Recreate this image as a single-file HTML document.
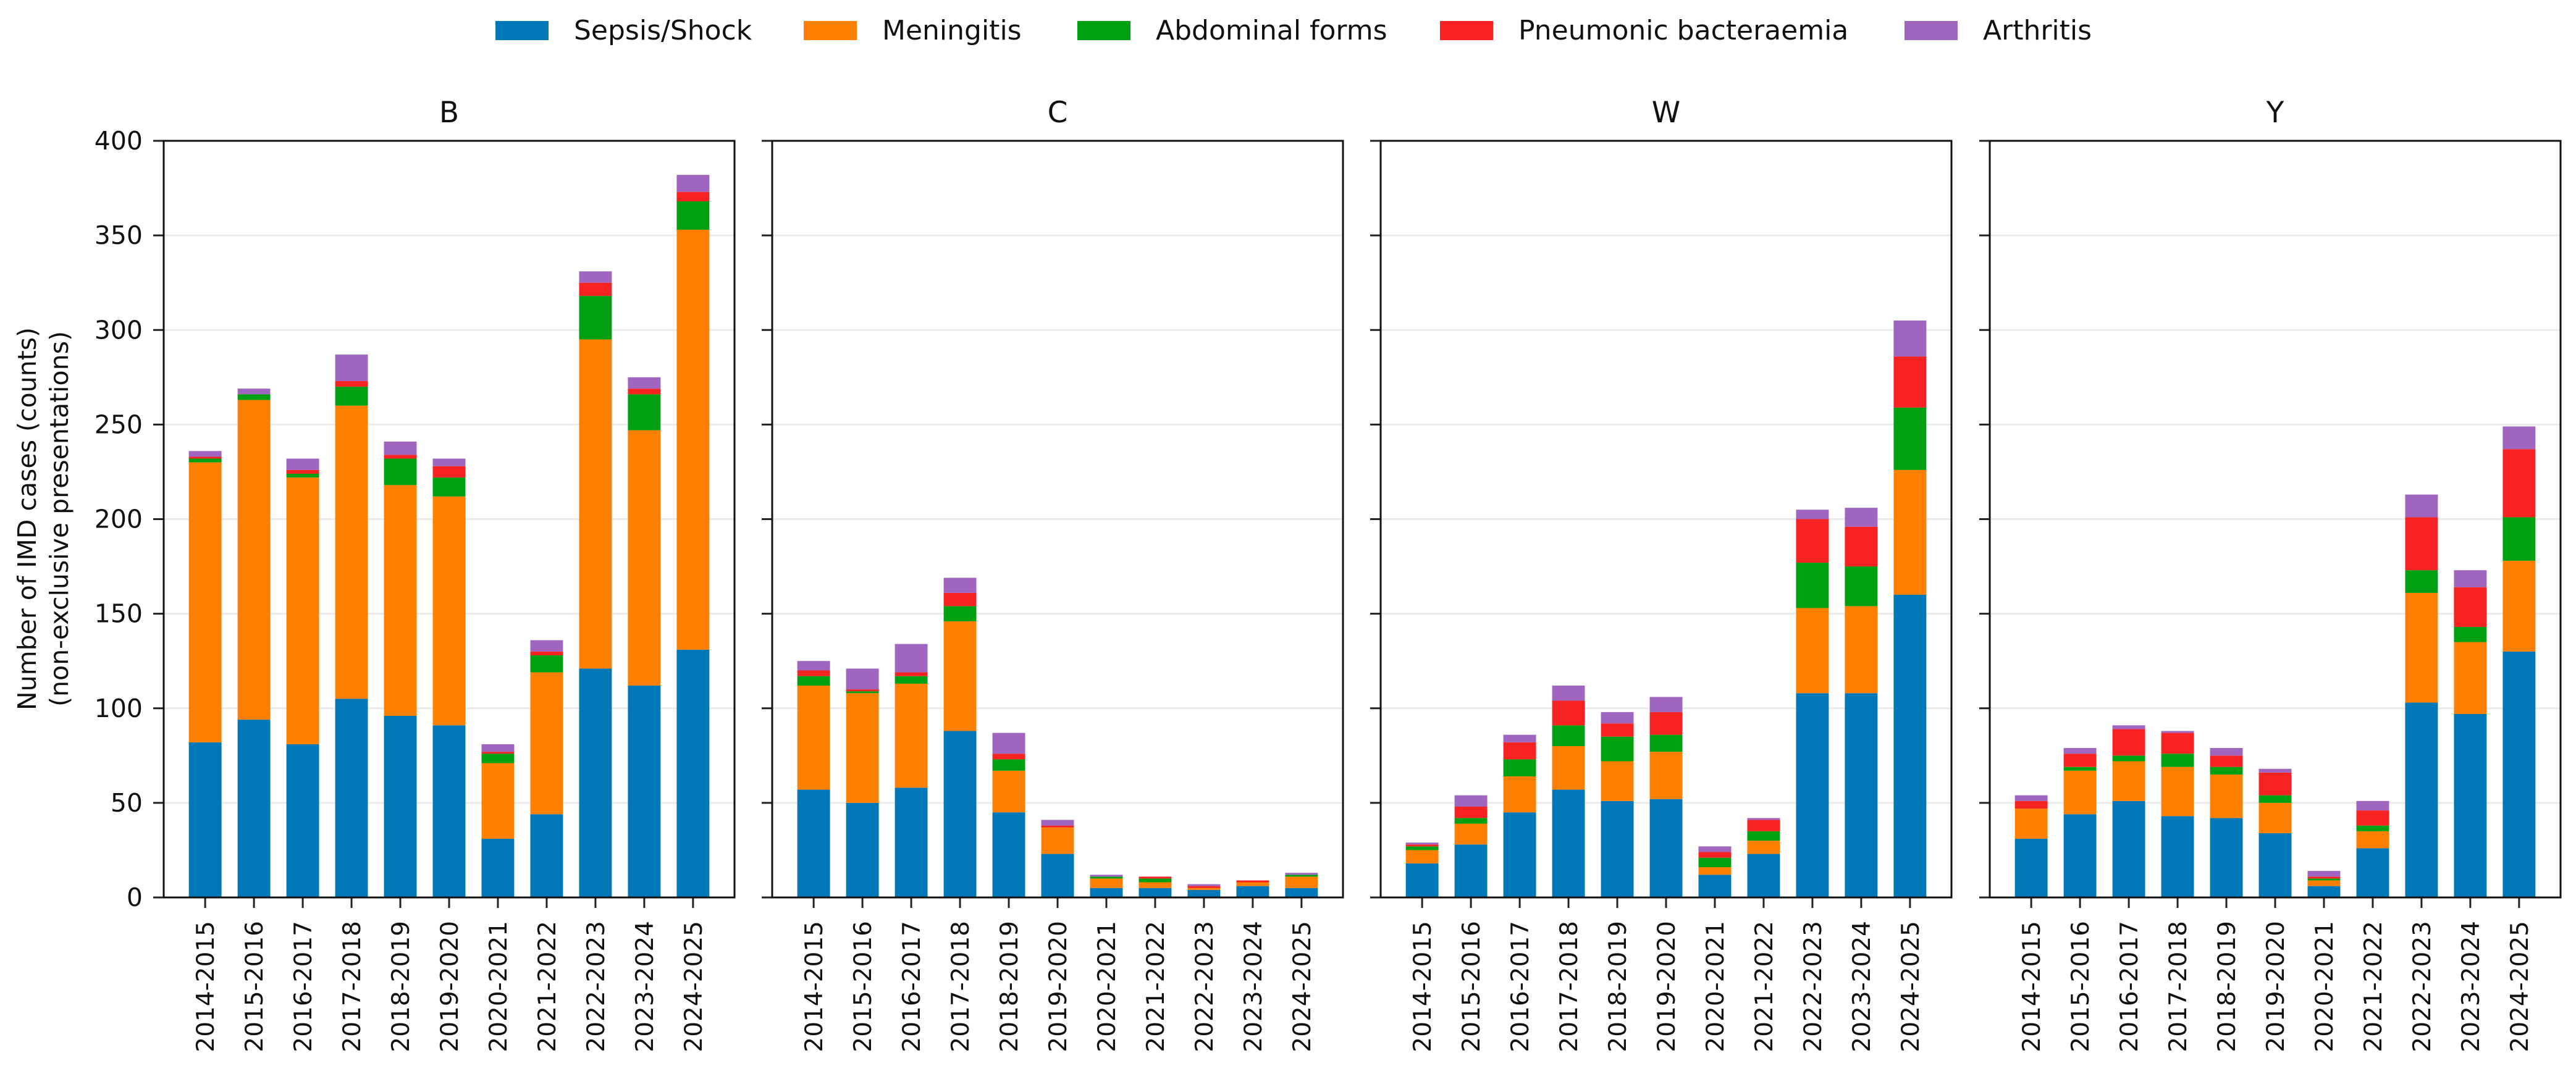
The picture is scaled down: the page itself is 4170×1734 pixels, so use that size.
<!DOCTYPE html>
<html><head><meta charset="utf-8">
<style>
html,body{margin:0;padding:0;background:#fff;}
svg{display:block;font-family:"DejaVu Sans","Liberation Sans",sans-serif;}
</style></head>
<body>
<svg id="chart" width="4170" height="1734" viewBox="0 0 4170 1734" xmlns="http://www.w3.org/2000/svg">
<rect x="0" y="0" width="4170" height="1734" fill="#fff"/>
<g id="legend"></g>
<g id="panels"></g>
<text transform="translate(58,840) rotate(-90)" text-anchor="middle" font-size="41" fill="#111">Number of IMD cases (counts)</text>
<text transform="translate(110,840) rotate(-90)" text-anchor="middle" font-size="41" fill="#111">(non-exclusive presentations)</text>
</svg>
<script>
const categories = ["2014-2015","2015-2016","2016-2017","2017-2018","2018-2019","2019-2020","2020-2021","2021-2022","2022-2023","2023-2024","2024-2025"];
const seriesNames = ["Sepsis/Shock","Meningitis","Abdominal forms","Pneumonic bacteraemia","Arthritis"];
const panelNames = ["B","C","W","Y"];
const yTicks = [0,50,100,150,200,250,300,350,400];

const B_sepsis = [82,94,81,105,96,91,31,44,121,112,131];
const B_mening = [148,169,141,155,122,121,40,75,174,135,222];
const B_abdom  = [2,3,2,10,14,10,5,9,23,19,15];
const B_pneum  = [1,0,2,3,2,6,1,2,7,3,5];
const B_arthr  = [3,3,6,14,7,4,4,6,6,6,9];

const C_sepsis = [57,50,58,88,45,23,5,5,4,6,5];
const C_mening = [55,58,55,58,22,14,5,3,1,2,6];
const C_abdom  = [5,1,4,8,6,0,1,2,0,0,1];
const C_pneum  = [3,1,2,7,3,1,0,1,1,1,0];
const C_arthr  = [5,11,15,8,11,3,1,0,1,0,1];

const W_sepsis = [18,28,45,57,51,52,12,23,108,108,160];
const W_mening = [7,11,19,23,21,25,4,7,45,46,66];
const W_abdom  = [2,3,9,11,13,9,5,5,24,21,33];
const W_pneum  = [1,6,9,13,7,12,3,6,23,21,27];
const W_arthr  = [1,6,4,8,6,8,3,1,5,10,19];

const Y_sepsis = [31,44,51,43,42,34,6,26,103,97,130];
const Y_mening = [16,23,21,26,23,16,3,9,58,38,48];
const Y_abdom  = [0,2,3,7,4,4,1,3,12,8,23];
const Y_pneum  = [4,7,14,11,6,12,1,8,28,21,36];
const Y_arthr  = [3,3,2,1,4,2,3,5,12,9,12];

const panelData = [
  [B_sepsis,B_mening,B_abdom,B_pneum,B_arthr],
  [C_sepsis,C_mening,C_abdom,C_pneum,C_arthr],
  [W_sepsis,W_mening,W_abdom,W_pneum,W_arthr],
  [Y_sepsis,Y_mening,Y_abdom,Y_pneum,Y_arthr]
];
</script>
<script>
(function(){
const NS = "http://www.w3.org/2000/svg";
const colors = ["#0077b6","#ff8000","#00a012","#f72222","#a066bf"];
const panelLefts = [265,1250,2235,3221];
const panelW = 924, top = 228, bottom = 1453, yMax = 400;
const slot = 'sepsis,meningitis,abdominal,pneumonic,arthritis'.split(',');
function el(tag, attrs, parent){
  const e = document.createElementNS(NS, tag);
  for (const k in attrs) e.setAttribute(k, attrs[k]);
  parent.appendChild(e);
  return e;
}
function yScale(v){ return bottom - (v / yMax) * (bottom - top); }

// legend
const legend = document.getElementById('legend');
const swX = [802,1301,1744,2331,3083];
seriesNames.forEach((n,i)=>{
  const g = el('g',{},legend);
  
  
  const r = el('rect',{x:swX[i], y:34, width:86, height:31, fill:colors[i]}, g);
  
  
  const t = el('text',{x:swX[i]+127, y:64, 'font-size':44, fill:'#111'}, g);
  t.textContent = n;
  
  
});

const panels = document.getElementById('panels');
panelNames.forEach((pn, p)=>{
  const L = panelLefts[p];
  const step = panelW / (categories.length + 0.7);
  const xCenter = i => L + step*0.85 + i*step;
  const g = el('g',{},panels);
  
  
  // gridlines
  yTicks.forEach(v=>{
    if (v===0 || v===yMax) return;
    const gl = el('line',{x1:L, x2:L+panelW, y1:yScale(v), y2:yScale(v), stroke:'#ebebeb', 'stroke-width':3}, g);
    
    
  });
  // bars
  const data = panelData[p];
  categories.forEach((c,i)=>{
    let base = 0;
    const bw = step*0.67;
    data.forEach((series, s)=>{
      const v = series[i];
      if (v > 0){
        const y0 = yScale(base), y1 = yScale(base+v);
        const r = el('rect',{x:xCenter(i)-bw/2, y:y1, width:bw, height:y0-y1, fill:colors[s]}, g);
        
        
      }
      base += v;
    });
    // x tick
    const tk = el('line',{x1:xCenter(i), x2:xCenter(i), y1:bottom, y2:bottom+17, stroke:'#222', 'stroke-width':3}, g);
    
    
    const tl = el('text',{transform:'translate('+(xCenter(i)+14)+','+(bottom+38)+') rotate(-90)', 'text-anchor':'end', 'font-size':39, fill:'#111'}, g);
    tl.textContent = c;
    
    
  });
  // y ticks
  yTicks.forEach(v=>{
    const t = el('line',{x1:L-17, x2:L, y1:yScale(v), y2:yScale(v), stroke:'#222', 'stroke-width':3}, g);
    
    
    if (p===0){
      const tl = el('text',{x:L-34, y:yScale(v)+14, 'text-anchor':'end', 'font-size':41, fill:'#111'}, g);
      tl.textContent = v;
      
      
    }
  });
  // frame
  const fr = el('rect',{x:L, y:top, width:panelW, height:bottom-top, fill:'none', stroke:'#111', 'stroke-width':3}, g);
  
  
  const tt = el('text',{x:L+panelW/2, y:198, 'text-anchor':'middle', 'font-size':47, fill:'#111'}, g);
  tt.textContent = pn;
  
  
});
})();
</script>
</body></html>
